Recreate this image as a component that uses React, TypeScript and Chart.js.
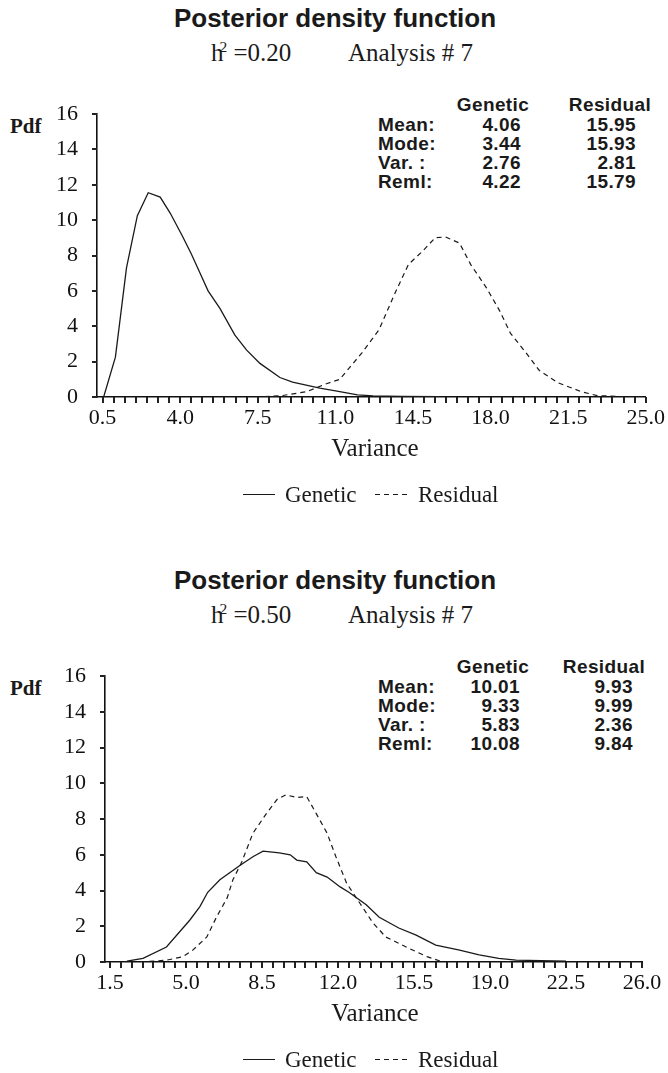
import React, { useEffect, useRef } from 'react';
import { Chart, registerables } from 'chart.js';

Chart.register(...registerables);

// ---------- Data: panel 1 (h2 = 0.20) ----------
const TOP_GENETIC_X = [0.55, 1.08, 1.58, 2.07, 2.56, 3.1, 3.55, 4.1, 4.5, 4.9, 5.26, 5.8, 6.47, 7.0, 7.6, 8.5, 9.07, 10.3, 11.2, 12.0, 12.7, 14.0, 15.7];
const TOP_GENETIC_Y = [0, 2.25, 7.3, 10.25, 11.55, 11.3, 10.4, 9.1, 8.1, 7.0, 6.0, 5.0, 3.5, 2.65, 1.9, 1.1, 0.84, 0.5, 0.3, 0.12, 0.06, 0.03, 0.02];
const TOP_RESIDUAL_X = [7.4, 8.6, 9.7, 10.6, 11.2, 11.6, 12.2, 12.97, 13.7, 14.3, 14.9, 15.5, 15.97, 16.6, 17.1, 17.8, 18.4, 18.9, 19.6, 20.2, 21.05, 22.1, 22.8, 24.0, 25.0];
const TOP_RESIDUAL_Y = [0, 0.08, 0.3, 0.75, 1.0, 1.6, 2.5, 3.8, 5.9, 7.5, 8.2, 9.0, 9.05, 8.7, 7.5, 6.2, 4.9, 3.6, 2.5, 1.5, 0.8, 0.3, 0.08, 0.02, 0];

// ---------- Data: panel 2 (h2 = 0.50) ----------
const BOTTOM_GENETIC_X = [2.28, 3.02, 4.1, 5.18, 5.64, 6.0, 6.56, 7.48, 8.1, 8.55, 9.3, 9.8, 10.1, 10.56, 11.0, 11.5, 12.1, 12.5, 13.3, 13.9, 14.8, 15.6, 16.5, 17.6, 18.5, 19.4, 20.2, 22.5];
const BOTTOM_GENETIC_Y = [0.05, 0.2, 0.84, 2.35, 3.1, 3.9, 4.6, 5.4, 5.9, 6.2, 6.1, 6.0, 5.7, 5.6, 5.0, 4.75, 4.2, 3.9, 3.2, 2.5, 1.9, 1.5, 0.95, 0.67, 0.4, 0.2, 0.1, 0.05];
const BOTTOM_RESIDUAL_X = [2.9, 4.1, 4.86, 5.3, 5.96, 6.4, 6.9, 7.16, 7.57, 8.08, 8.7, 9.2, 9.6, 10.1, 10.56, 11.0, 11.5, 11.9, 12.4, 13.0, 13.6, 14.2, 15.2, 16.1, 16.7];
const BOTTOM_RESIDUAL_Y = [0, 0.1, 0.3, 0.65, 1.4, 2.5, 3.6, 4.6, 5.6, 7.2, 8.3, 9.1, 9.35, 9.2, 9.25, 8.3, 7.2, 5.9, 4.4, 3.3, 2.2, 1.4, 0.8, 0.3, 0.05];

// ---------- Tick labels ----------
const TOP_X_LABELS = [0.5, 4.0, 7.5, 11.0, 14.5, 18.0, 21.5, 25.0];
const BOTTOM_X_LABELS = [1.5, 5.0, 8.5, 12.0, 15.5, 19.0, 22.5, 26.0];
const Y_LABELS = [0, 2, 4, 6, 8, 10, 12, 14, 16];

// ---------- Summary tables ----------
const STAT_ROWS = ['Mean:', 'Mode:', 'Var. :', 'Reml:'];
const TOP_GENETIC_STATS = ['4.06', '3.44', '2.76', '4.22'];
const TOP_RESIDUAL_STATS = ['15.95', '15.93', '2.81', '15.79'];
const BOTTOM_GENETIC_STATS = ['10.01', '9.33', '5.83', '10.08'];
const BOTTOM_RESIDUAL_STATS = ['9.93', '9.99', '2.36', '9.84'];

const INK = '#1a1a1a';
const SERIF = '"Liberation Serif", "Times New Roman", serif';
const SANS = '"Liberation Sans", Arial, sans-serif';

type Area = { left: number; right: number; top: number; bottom: number };

function PdfChart(props: {
  gx: number[]; gy: number[]; rx: number[]; ry: number[];
  xMin: number; xMax: number; labels: number[];
  area: Area; canvasTop: number; canvasHeight: number;
}) {
  const ref = useRef<HTMLCanvasElement>(null);
  useEffect(() => {
    const { gx, gy, rx, ry, xMin, xMax, labels, area, canvasTop, canvasHeight } = props;
    const minor: number[] = [];
    for (let v = labels[0]; v <= xMax + 1e-9; v += 0.5) minor.push(Math.round(v * 10) / 10);
    const xAxisH = 40;

    // small tick marks outside the plot area: every 0.5 on x, every label on y
    const tickMarks = {
      id: 'tickMarks',
      afterDraw(chart: any) {
        const ctx = chart.ctx as CanvasRenderingContext2D;
        const ca = chart.chartArea;
        const xs = chart.scales.x;
        const ys = chart.scales.y;
        ctx.save();
        ctx.setLineDash([]);
        ctx.fillStyle = '#222';
        for (const v of minor) {
          const px = Math.round(xs.getPixelForValue(v));
          ctx.fillRect(px - 1, ca.bottom, 2, 6);
        }
        for (const v of Y_LABELS) {
          const py = Math.round(ys.getPixelForValue(v));
          ctx.fillRect(ca.left - 5, py - 1, 5, 2);
        }
        ctx.restore();
      },
    };

    const chart = new Chart(ref.current as HTMLCanvasElement, {
      type: 'line',
      data: {
        datasets: [
          {
            label: 'Genetic',
            data: gx.map((x, i) => ({ x, y: gy[i] })),
            borderColor: INK,
            borderWidth: 1.3,
            pointRadius: 0,
            tension: 0,
            fill: false,
          },
          {
            label: 'Residual',
            data: rx.map((x, i) => ({ x, y: ry[i] })),
            borderColor: INK,
            borderWidth: 1.2,
            borderDash: [5, 4],
            pointRadius: 0,
            tension: 0,
            fill: false,
          },
        ],
      },
      plugins: [tickMarks],
      options: {
        animation: false,
        responsive: false,
        maintainAspectRatio: false,
        layout: {
          padding: {
            top: area.top - canvasTop,
            right: 668 - area.right,
            bottom: canvasTop + canvasHeight - area.bottom - xAxisH,
            left: 0,
          },
        },
        plugins: {
          legend: { display: false },
          tooltip: { enabled: false },
        },
        scales: {
          x: {
            type: 'linear',
            min: xMin,
            max: xMax,
            afterBuildTicks: (s: any) => {
              s.ticks = labels.map((v) => ({ value: v }));
            },
            afterFit: (s: any) => {
              s.height = xAxisH;
            },
            ticks: {
              autoSkip: false,
              maxRotation: 0,
              padding: 3,
              color: '#111',
              font: { family: SERIF, size: 22 },
              callback: (v: any) => Number(v).toFixed(1),
            },
            grid: { display: false, drawOnChartArea: false, tickLength: 5 },
            border: { display: true, color: '#111', width: 1.6 },
          },
          y: {
            type: 'linear',
            min: 0,
            max: 16,
            afterBuildTicks: (s: any) => {
              s.ticks = Y_LABELS.map((v) => ({ value: v }));
            },
            afterFit: (s: any) => {
              s.width = area.left;
            },
            ticks: {
              padding: 15,
              color: '#111',
              font: { family: SERIF, size: 22 },
              callback: (v: any) => String(v),
            },
            grid: { display: false, drawOnChartArea: false, tickLength: 4 },
            border: { display: true, color: '#111', width: 1.6 },
          },
        },
      },
    });
    return () => chart.destroy();
  }, []);
  return (
    <canvas
      ref={ref}
      width={668}
      height={props.canvasHeight}
      style={{ position: 'absolute', left: 0, top: props.canvasTop, width: 668, height: props.canvasHeight }}
    />
  );
}

function Txt(props: { x: number; y: number; align?: 'left' | 'center' | 'right'; style?: React.CSSProperties; children: React.ReactNode }) {
  const a = props.align || 'left';
  const tx = a === 'left' ? '0' : a === 'center' ? '-50%' : '-100%';
  return (
    <div
      style={{
        position: 'absolute',
        left: props.x,
        top: props.y,
        transform: `translate(${tx}, -50%)`,
        whiteSpace: 'nowrap',
        lineHeight: 1,
        color: INK,
        ...props.style,
      }}
    >
      {props.children}
    </div>
  );
}

function Panel(props: {
  offset: number; h2: string;
  gx: number[]; gy: number[]; rx: number[]; ry: number[];
  xMin: number; xMax: number; labels: number[]; area: Area;
  gStats: string[]; rStats: string[]; gRight: number; rRight: number; rHeader: number;
}) {
  const o = props.offset;
  const tableFont: React.CSSProperties = { fontFamily: SANS, fontWeight: 'bold', fontSize: 19, letterSpacing: 0.4 };
  const serif23: React.CSSProperties = { fontFamily: SERIF, fontSize: 23 };
  return (
    <>
      <Txt x={335} y={o + 18} align="center" style={{ fontFamily: SANS, fontWeight: 'bold', fontSize: 26 }}>
        Posterior density function
      </Txt>
      <Txt x={211} y={o + 52} style={{ fontFamily: SERIF, fontSize: 25 }}>
        h<sup style={{ fontSize: '0.62em', marginLeft: -4, verticalAlign: '0.55em' }}>2</sup> =0.{props.h2}
      </Txt>
      <Txt x={348} y={o + 52} style={{ fontFamily: SERIF, fontSize: 25 }}>
        Analysis # 7
      </Txt>
      <Txt x={10} y={props.area.top + 12} style={{ fontFamily: SERIF, fontSize: 21, fontWeight: 'bold' }}>
        Pdf
      </Txt>
      <Txt x={493} y={props.area.top - 10} align="center" style={tableFont}>Genetic</Txt>
      <Txt x={props.rHeader} y={props.area.top - 10} align="center" style={tableFont}>Residual</Txt>
      {STAT_ROWS.map((r, i) => (
        <React.Fragment key={r}>
          <Txt x={378} y={props.area.top + 10 + i * 19} style={tableFont}>{r}</Txt>
          <Txt x={props.gRight} y={props.area.top + 10 + i * 19} align="right" style={tableFont}>{props.gStats[i]}</Txt>
          <Txt x={props.rRight} y={props.area.top + 10 + i * 19} align="right" style={tableFont}>{props.rStats[i]}</Txt>
        </React.Fragment>
      ))}
      <PdfChart
        gx={props.gx} gy={props.gy} rx={props.rx} ry={props.ry}
        xMin={props.xMin} xMax={props.xMax} labels={props.labels}
        area={props.area} canvasTop={props.area.top - 30} canvasHeight={props.area.bottom - props.area.top + 80}
      />
      <Txt x={375} y={props.area.bottom + 50} align="center" style={{ fontFamily: SERIF, fontSize: 25 }}>Variance</Txt>
      <div style={{ position: 'absolute', left: 243, top: props.area.bottom + 97, width: 32, borderTop: `1.3px solid ${INK}` }} />
      <Txt x={285} y={props.area.bottom + 97} style={serif23}>Genetic</Txt>
      <div style={{ position: 'absolute', left: 375, top: props.area.bottom + 97, width: 35, height: 1.3, backgroundImage: `repeating-linear-gradient(90deg, ${INK} 0 5px, transparent 5px 9px)` }} />
      <Txt x={418} y={props.area.bottom + 97} style={serif23}>Residual</Txt>
    </>
  );
}

export default function App() {
  return (
    <div style={{ position: 'absolute', left: 0, top: 0, width: 668, height: 1073, background: '#fff', overflow: 'hidden' }}>
      <Panel
        offset={0} h2="20"
        gx={TOP_GENETIC_X} gy={TOP_GENETIC_Y} rx={TOP_RESIDUAL_X} ry={TOP_RESIDUAL_Y}
        xMin={0.25} xMax={25.0} labels={TOP_X_LABELS}
        area={{ left: 97, right: 648, top: 114, bottom: 397 }}
        gStats={TOP_GENETIC_STATS} rStats={TOP_RESIDUAL_STATS} gRight={521} rRight={636} rHeader={610}
      />
      <Panel
        offset={562} h2="50"
        gx={BOTTOM_GENETIC_X} gy={BOTTOM_GENETIC_Y} rx={BOTTOM_RESIDUAL_X} ry={BOTTOM_RESIDUAL_Y}
        xMin={1.27} xMax={26.0} labels={BOTTOM_X_LABELS}
        area={{ left: 105, right: 642, top: 676, bottom: 962 }}
        gStats={BOTTOM_GENETIC_STATS} rStats={BOTTOM_RESIDUAL_STATS} gRight={520} rRight={633} rHeader={604}
      />
    </div>
  );
}
